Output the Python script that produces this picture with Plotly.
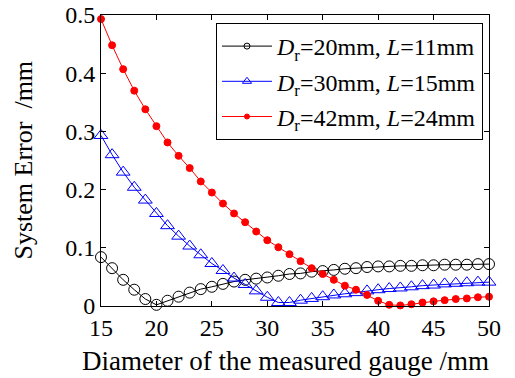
import plotly.graph_objects as go

diameter_mm = [15, 16, 17, 18, 19, 20, 21, 22, 23, 24, 25, 26, 27, 28, 29, 30, 31, 32,
               33, 34, 35, 36, 37, 38, 39, 40, 41, 42, 43, 44, 45, 46, 47, 48, 49, 50]

err_dr20 = [0.084, 0.065, 0.045, 0.028, 0.012, 0.002, 0.009, 0.016, 0.023, 0.029, 0.033, 0.038,
            0.042, 0.045, 0.047, 0.049, 0.052, 0.055, 0.056, 0.059, 0.060, 0.062, 0.064, 0.065,
            0.067, 0.068, 0.068, 0.069, 0.069, 0.070, 0.070, 0.071, 0.071, 0.071, 0.072, 0.072]

err_dr30 = [0.293, 0.260, 0.230, 0.204, 0.182, 0.159, 0.138, 0.120, 0.103, 0.088, 0.073, 0.061,
            0.048, 0.037, 0.026, 0.015, 0.006, 0.006, 0.010, 0.013, 0.016, 0.019, 0.021, 0.023,
            0.026, 0.028, 0.030, 0.031, 0.033, 0.035, 0.036, 0.038, 0.039, 0.040, 0.041, 0.041]

err_dr42 = [0.493, 0.448, 0.407, 0.370, 0.338, 0.309, 0.281, 0.258, 0.237, 0.214, 0.195, 0.176,
            0.159, 0.144, 0.128, 0.113, 0.101, 0.089, 0.077, 0.065, 0.055, 0.045, 0.035, 0.028,
            0.019, 0.009, 0.002, 0.001, 0.003, 0.006, 0.008, 0.010, 0.012, 0.013, 0.015, 0.016]

series_names = ["<i>D</i><sub>r</sub>=20mm, <i>L</i>=11mm",
                "<i>D</i><sub>r</sub>=30mm, <i>L</i>=15mm",
                "<i>D</i><sub>r</sub>=42mm, <i>L</i>=24mm"]

x_tick_vals = [15, 20, 25, 30, 35, 40, 45, 50]
x_tick_text = ["15", "20", "25", "30", "35", "40", "45", "50"]
y_tick_vals = [0, 0.1, 0.2, 0.3, 0.4, 0.5]
y_tick_text = ["0", "0.1", "0.2", "0.3", "0.4", "0.5"]

x_title = "Diameter of the measured gauge /mm"
y_title = "System Error  /mm"

FONT = "Liberation Serif, Times New Roman, serif"

styles = [
    dict(color="#000000", symbol="circle-open", size=11, lsize=6),
    dict(color="#0000ff", symbol="triangle-up-open", size=12, lsize=8),
    dict(color="#ff0000", symbol="circle", size=7, lsize=5),
]
data = [err_dr20, err_dr30, err_dr42]

fig = go.Figure()
for name, ys, st in zip(series_names, data, styles):
    fig.add_trace(go.Scatter(
        x=diameter_mm, y=ys, mode="lines+markers", showlegend=False,
        cliponaxis=False,
        line=dict(color=st["color"], width=1),
        marker=dict(symbol=st["symbol"], size=st["size"], color=st["color"],
                    line=dict(color=st["color"], width=1)),
    ))
for i, (name, st) in enumerate(zip(series_names, styles)):
    fig.add_trace(go.Scatter(
        x=[None], y=[None], mode="lines+markers", name=name, legendgroup=f"g{i}",
        line=dict(color=st["color"], width=1),
        marker=dict(symbol=st["symbol"], size=st["lsize"], color=st["color"],
                    line=dict(color=st["color"], width=1)),
    ))

axis_common = dict(
    showline=True, linecolor="black", linewidth=1, mirror="ticks",
    ticks="inside", ticklen=5, tickwidth=1, tickcolor="black",
    showgrid=False, zeroline=False, automargin=False, ticklabeloverflow="allow",
    tickfont=dict(family=FONT, size=24, color="black"),
)

# page body has an 8px default margin, so the figure is sized/offset to compensate
fig.update_layout(
    width=507, height=370,
    margin=dict(l=93, r=26, t=7, b=72),
    paper_bgcolor="white", plot_bgcolor="white",
    font=dict(family=FONT, color="black"),
    xaxis=dict(range=[15, 50], tickvals=x_tick_vals, ticktext=x_tick_text, **axis_common),
    yaxis=dict(range=[0, 0.5], tickvals=y_tick_vals, ticktext=y_tick_text, **axis_common),
    legend=dict(x=0.9845, y=0.9725, xanchor="right", yanchor="top",
                bgcolor="white", bordercolor="black", borderwidth=1,
                font=dict(family=FONT, size=24, color="black"),
                itemwidth=50, tracegroupgap=1),
    annotations=[
        dict(text=x_title, xref="paper", yref="paper", x=0.4755, y=-0.189,
             xanchor="center", yanchor="middle", showarrow=False,
             font=dict(family=FONT, size=27, color="black")),
        dict(text=y_title, xref="paper", yref="paper", x=-0.201, y=0.5,
             xanchor="center", yanchor="middle", showarrow=False, textangle=-90,
             font=dict(family=FONT, size=26, color="black")),
    ],
)

fig.write_html("out.html")
